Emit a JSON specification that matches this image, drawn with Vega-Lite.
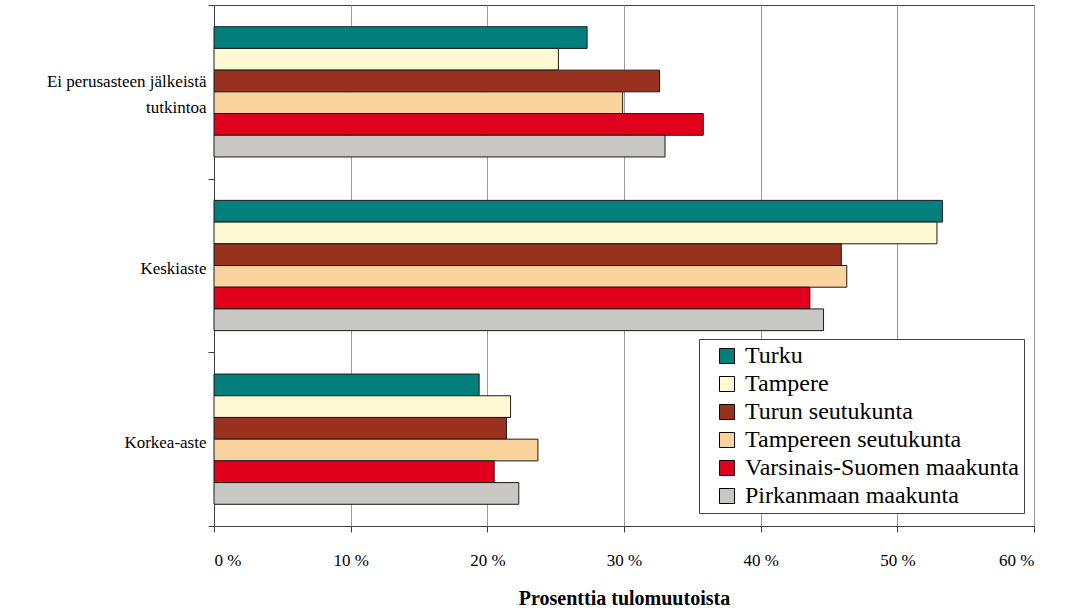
{
  "$schema": "https://vega.github.io/schema/vega-lite/v6.json",
  "autosize": "none",
  "width": 820,
  "height": 521,
  "padding": {"left": 214, "top": 5, "right": 33, "bottom": 84},
  "background": "white",
  "config": {
    "view": {"stroke": "#404040", "strokeWidth": 1},
    "font": "Liberation Serif, Times New Roman, serif"
  },
  "data": {
    "values": [
      {"koulutus": "Ei perusasteen jälkeistä tutkintoa", "alue": "Turku", "arvo": 27.3},
      {"koulutus": "Ei perusasteen jälkeistä tutkintoa", "alue": "Tampere", "arvo": 25.2},
      {"koulutus": "Ei perusasteen jälkeistä tutkintoa", "alue": "Turun seutukunta", "arvo": 32.6},
      {"koulutus": "Ei perusasteen jälkeistä tutkintoa", "alue": "Tampereen seutukunta", "arvo": 29.9},
      {"koulutus": "Ei perusasteen jälkeistä tutkintoa", "alue": "Varsinais-Suomen maakunta", "arvo": 35.8},
      {"koulutus": "Ei perusasteen jälkeistä tutkintoa", "alue": "Pirkanmaan maakunta", "arvo": 33.0},
      {"koulutus": "Keskiaste", "alue": "Turku", "arvo": 53.3},
      {"koulutus": "Keskiaste", "alue": "Tampere", "arvo": 52.9},
      {"koulutus": "Keskiaste", "alue": "Turun seutukunta", "arvo": 45.9},
      {"koulutus": "Keskiaste", "alue": "Tampereen seutukunta", "arvo": 46.3},
      {"koulutus": "Keskiaste", "alue": "Varsinais-Suomen maakunta", "arvo": 43.6},
      {"koulutus": "Keskiaste", "alue": "Pirkanmaan maakunta", "arvo": 44.6},
      {"koulutus": "Korkea-aste", "alue": "Turku", "arvo": 19.4},
      {"koulutus": "Korkea-aste", "alue": "Tampere", "arvo": 21.7},
      {"koulutus": "Korkea-aste", "alue": "Turun seutukunta", "arvo": 21.4},
      {"koulutus": "Korkea-aste", "alue": "Tampereen seutukunta", "arvo": 23.7},
      {"koulutus": "Korkea-aste", "alue": "Varsinais-Suomen maakunta", "arvo": 20.5},
      {"koulutus": "Korkea-aste", "alue": "Pirkanmaan maakunta", "arvo": 22.3}
    ]
  },
  "mark": {"type": "bar", "stroke": "#1a1a1a", "strokeWidth": 1},
  "encoding": {
    "y": {
      "field": "koulutus",
      "type": "nominal",
      "sort": ["Ei perusasteen jälkeistä tutkintoa", "Keskiaste", "Korkea-aste"],
      "scale": {"paddingInner": 0, "paddingOuter": 0},
      "axis": {
        "title": null,
        "tickBand": "extent",
        "tickSize": 6,
        "tickColor": "#404040",
        "domainColor": "#404040",
        "labelFont": "Liberation Serif, Times New Roman, serif",
        "labelFontSize": 17,
        "labelColor": "black",
        "labelPadding": 2,
        "labelOffset": {"condition": {"test": "datum.value == 'Ei perusasteen jälkeistä tutkintoa'", "value": -10}, "value": 3},
        "labelLineHeight": 26,
        "labelLimit": 300,
        "labelExpr": "datum.label == 'Ei perusasteen jälkeistä tutkintoa' ? ['Ei perusasteen jälkeistä', 'tutkintoa'] : datum.label"
      }
    },
    "yOffset": {
      "field": "alue",
      "type": "nominal",
      "sort": ["Turku", "Tampere", "Turun seutukunta", "Tampereen seutukunta", "Varsinais-Suomen maakunta", "Pirkanmaan maakunta"],
      "scale": {"paddingInner": 0, "paddingOuter": 1}
    },
    "x": {
      "field": "arvo",
      "type": "quantitative",
      "scale": {"domain": [0, 60], "nice": false},
      "axis": {
        "title": "Prosenttia tulomuutoista",
        "titleFont": "Liberation Serif, Times New Roman, serif",
        "titleFontSize": 20,
        "titleFontWeight": "bold",
        "titleColor": "black",
        "titlePadding": 20,
        "values": [0, 10, 20, 30, 40, 50, 60],
        "labelExpr": "datum.value + ' %'",
        "labelFont": "Liberation Serif, Times New Roman, serif",
        "labelFontSize": 17,
        "labelColor": "black",
        "labelPadding": 20,
        "tickSize": 6,
        "tickColor": "#404040",
        "domainColor": "#404040",
        "grid": true,
        "gridColor": "#9a9a9a",
        "gridWidth": 1
      }
    },
    "color": {
      "field": "alue",
      "type": "nominal",
      "sort": ["Turku", "Tampere", "Turun seutukunta", "Tampereen seutukunta", "Varsinais-Suomen maakunta", "Pirkanmaan maakunta"],
      "scale": {
        "domain": ["Turku", "Tampere", "Turun seutukunta", "Tampereen seutukunta", "Varsinais-Suomen maakunta", "Pirkanmaan maakunta"],
        "range": ["#027f7c", "#fef8d3", "#98311e", "#fbd39f", "#e0001b", "#c9c8c4"]
      },
      "legend": {
        "title": null,
        "orient": "none",
        "legendX": 485,
        "legendY": 334,
        "fillColor": "white",
        "strokeColor": "#404040",
        "padding": 5,
        "symbolOffset": 11,
        "symbolType": "square",
        "symbolSize": 225,
        "symbolStrokeColor": "black",
        "symbolStrokeWidth": 1,
        "symbolOpacity": 1,
        "labelFont": "Liberation Serif, Times New Roman, serif",
        "labelFontSize": 24,
        "labelColor": "black",
        "labelOffset": 6,
        "labelLimit": 400,
        "rowPadding": 4
      }
    }
  }
}
